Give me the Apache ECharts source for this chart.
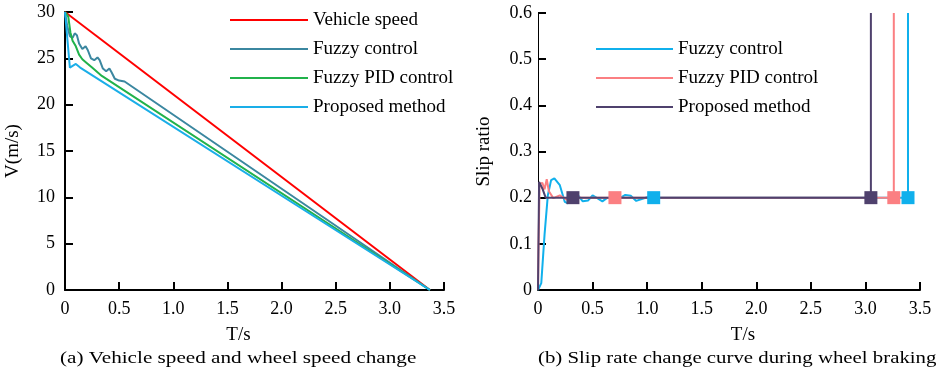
<!DOCTYPE html>
<html>
<head>
<meta charset="utf-8">
<script src="https://cdn.jsdelivr.net/npm/echarts@6/dist/echarts.min.js"></script>
<style>
  html, body { margin: 0; padding: 0; background: #fff; }
  #chart { width: 944px; height: 374px; }
</style>
</head>
<body>
<div id="chart"></div>
<script>
// (a) speed curves: [t, V]
const vehicleSpeed = [[0, 30], [3.37, 0]]
const fuzzySpeed = [
    [0, 30], [0.02, 28.5], [0.045, 27.4], [0.07, 27.2], [0.09, 27.7], [0.11, 27.5],
    [0.13, 26.6], [0.16, 26.0], [0.19, 26.3], [0.21, 25.9], [0.24, 25.0], [0.27, 24.8],
    [0.3, 25.1], [0.32, 24.8], [0.35, 23.9], [0.38, 23.6], [0.41, 23.9], [0.43, 23.5],
    [0.46, 22.8], [0.5, 22.6], [0.55, 22.5], [3.37, 0]
]
const fuzzyPidSpeed = [
    [0, 30], [0.03, 29.5], [0.05, 27.8], [0.07, 26.9], [0.1, 26.3], [0.13, 25.4],
    [0.16, 24.9], [0.2, 24.5], [0.25, 24.0], [0.34, 23.1], [3.37, 0]
]
const proposedSpeed = [[0, 30], [0.045, 24.0], [0.1, 24.4], [0.14, 24.0], [3.37, 0]]

// (b) slip ratio curves: [t, slip]
const fuzzySlip = [
    [0, 0], [0.03, 0.015], [0.06, 0.12], [0.09, 0.205], [0.12, 0.238], [0.15, 0.242],
    [0.2, 0.227], [0.245, 0.191], [0.275, 0.188], [0.31, 0.198], [0.36, 0.207],
    [0.41, 0.192], [0.46, 0.194], [0.5, 0.205], [0.55, 0.198], [0.59, 0.192],
    [0.63, 0.199], [0.68, 0.201], [0.75, 0.199], [0.8, 0.206], [0.85, 0.204],
    [0.9, 0.193], [0.95, 0.197], [1.0, 0.201], [1.06, 0.2], [3.39, 0.2], [3.39, 0.6]
]
const fuzzyPidSlip = [
    [0, 0], [0.005, 0.1], [0.015, 0.23], [0.04, 0.232], [0.06, 0.218], [0.08, 0.24],
    [0.1, 0.214], [0.14, 0.199], [0.2, 0.205], [0.26, 0.196], [0.32, 0.202],
    [0.4, 0.2], [3.26, 0.2], [3.26, 0.6]
]
const proposedSlip = [[0, 0], [0.01, 0.234], [0.04, 0.22], [0.07, 0.2], [3.05, 0.2], [3.05, 0.6]]

const fuzzyMarks = [[1.06, 0.2], [3.39, 0.2]]
const fuzzyPidMarks = [[0.705, 0.2], [3.26, 0.2]]
const proposedMarks = [[0.32, 0.2], [3.05, 0.2]]

const speedNames = ['Vehicle speed', 'Fuzzy control', 'Fuzzy PID control', 'Proposed method']
const slipNames = ['Fuzzy control ', 'Fuzzy PID control ', 'Proposed method ']

const font = 'Liberation Serif'
const fmt1 = v => (v === 0 ? '0' : v.toFixed(1))

const axisBase = (lineWidth) => ({
    axisLine: { lineStyle: { color: '#000', width: lineWidth } },
    axisTick: { inside: true, length: 8, lineStyle: { color: '#000', width: 2 } },
    splitLine: { show: false },
    axisLabel: { color: '#000', fontFamily: font, fontSize: 18 },
    nameTextStyle: { color: '#000', fontFamily: font, fontSize: 19 },
})

const lineSeries = (name, data, color, xi) => ({
    name,
    type: 'line',
    xAxisIndex: xi,
    yAxisIndex: xi,
    data,
    symbol: 'none',
    lineStyle: { color, width: 2 },
    itemStyle: { color },
})

// square markers on the slip curves
const markSeries = (data, color) => ({
    type: 'scatter',
    xAxisIndex: 1,
    yAxisIndex: 1,
    data,
    symbol: 'rect',
    symbolSize: 13,
    itemStyle: { color, opacity: 1 },
    z: 5,
})

const legendText = { color: '#000', fontFamily: font, fontSize: 19, lineHeight: 20 }

const myChart = echarts.init(document.getElementById('chart'))
const option = {
    animation: false,
    grid: [
        { left: 65, top: 12, width: 379, height: 278 },
        { left: 538, top: 13, width: 382, height: 277 },
    ],
    xAxis: [
        {
            gridIndex: 0, type: 'value', min: 0, max: 3.5, interval: 0.5,
            name: 'T/s', nameLocation: 'middle', nameGap: 36,
            ...axisBase(2),
            nameTextStyle: { ...axisBase(2).nameTextStyle, padding: [0, 32, 0, 0] },
            axisLabel: { ...axisBase(2).axisLabel, margin: 10, formatter: fmt1 },
        },
        {
            gridIndex: 1, type: 'value', min: 0, max: 3.5, interval: 0.5,
            name: 'T/s', nameLocation: 'middle', nameGap: 36,
            ...axisBase(2),
            nameTextStyle: { ...axisBase(2).nameTextStyle, padding: [0, 0, 0, 28] },
            axisLabel: { ...axisBase(2).axisLabel, margin: 10, formatter: fmt1 },
        },
    ],
    yAxis: [
        {
            gridIndex: 0, type: 'value', min: 0, max: 30, interval: 5,
            name: 'V(m/s)', nameLocation: 'middle', nameGap: 42,
            ...axisBase(2),
            axisLabel: { ...axisBase(2).axisLabel, margin: 10 },
        },
        {
            gridIndex: 1, type: 'value', min: 0, max: 0.6, interval: 0.1,
            name: 'Slip ratio', nameLocation: 'middle', nameGap: 44,
            ...axisBase(1),
            axisLabel: { ...axisBase(1).axisLabel, margin: 6, formatter: fmt1 },
        },
    ],
    legend: [
        {
            data: speedNames,
            orient: 'vertical',
            left: 230, top: 10, padding: 0,
            icon: 'rect', itemWidth: 78, itemHeight: 2, itemGap: 9,
            textStyle: legendText,
        },
        {
            data: slipNames,
            orient: 'vertical',
            left: 596, top: 39, padding: 0,
            icon: 'rect', itemWidth: 77, itemHeight: 2, itemGap: 9,
            textStyle: legendText,
        },
    ],
    graphic: [
        {
            type: 'text', x: 60, y: 349, scaleX: 1.21,
            style: { text: '(a) Vehicle speed and wheel speed change', fontFamily: font, fontSize: 17.5, fill: '#000' },
        },
        {
            type: 'text', x: 538, y: 349, scaleX: 1.19,
            style: { text: '(b) Slip rate change curve during wheel braking', fontFamily: font, fontSize: 17.5, fill: '#000' },
        },
    ],
    series: [
        lineSeries(speedNames[0], vehicleSpeed, '#ff0000', 0),
        lineSeries(speedNames[1], fuzzySpeed, '#3b87a0', 0),
        lineSeries(speedNames[2], fuzzyPidSpeed, '#21b24b', 0),
        lineSeries(speedNames[3], proposedSpeed, '#1aaee8', 0),
        lineSeries(slipNames[0], fuzzySlip, '#10b0ec', 1),
        lineSeries(slipNames[1], fuzzyPidSlip, '#fb7f82', 1),
        lineSeries(slipNames[2], proposedSlip, '#4f416d', 1),
        markSeries(fuzzyMarks, '#10b0ec'),
        markSeries(fuzzyPidMarks, '#fb7f82'),
        markSeries(proposedMarks, '#4f416d'),
    ],
}

option && myChart.setOption(option)
</script>
</body>
</html>
